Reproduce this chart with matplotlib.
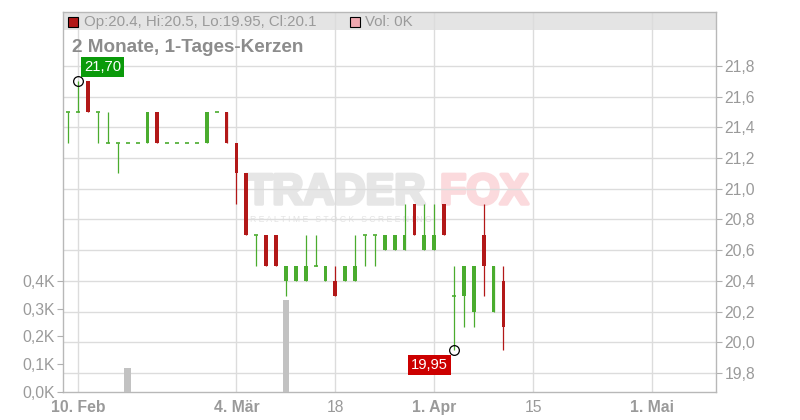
import numpy as np
import pandas as pd
import matplotlib
matplotlib.use('Agg')
import matplotlib.pyplot as plt
import matplotlib.patheffects as pe
from matplotlib.patches import Rectangle

plt.rcParams['font.family'] = ['Liberation Sans', 'DejaVu Sans']

# Kursdaten (Handelstage ab 7. Feb 2025)
opens = [21.5, 21.5, 21.7, 21.5, 21.3, 21.3, 21.3, 21.3, 21.3, 21.5,
         21.3, 21.3, 21.3, 21.3, 21.3, 21.5, 21.5, 21.3, 21.1, 20.7,
         20.7, 20.7, 20.4, 20.4, 20.4, 20.5, 20.4, 20.4, 20.4, 20.4,
         20.7, 20.7, 20.6, 20.6, 20.6, 20.9, 20.6, 20.6, 20.9, 20.3,
         20.3, 20.2, 20.7, 20.2, 20.4]
highs = [21.5, 21.7, 21.7, 21.5, 21.5, 21.3, 21.3, 21.3, 21.5, 21.5,
         21.3, 21.3, 21.3, 21.3, 21.5, 21.5, 21.5, 21.3, 21.1, 20.7,
         20.7, 20.7, 20.5, 20.5, 20.7, 20.7, 20.5, 20.5, 20.5, 20.7,
         20.7, 20.7, 20.7, 20.7, 20.9, 20.9, 20.9, 20.9, 20.9, 20.5,
         20.5, 20.5, 20.9, 20.5, 20.5]
lows = [21.3, 21.5, 21.5, 21.3, 21.3, 21.1, 21.3, 21.3, 21.3, 21.3,
        21.3, 21.3, 21.3, 21.3, 21.3, 21.5, 21.3, 20.9, 20.7, 20.5,
        20.5, 20.5, 20.3, 20.4, 20.4, 20.5, 20.4, 20.3, 20.4, 20.4,
        20.5, 20.5, 20.6, 20.6, 20.6, 20.7, 20.6, 20.6, 20.7, 19.95,
        20.1, 20.1, 20.3, 20.2, 19.95]
closes = [21.5, 21.5, 21.5, 21.5, 21.3, 21.3, 21.3, 21.3, 21.5, 21.3,
          21.3, 21.3, 21.3, 21.3, 21.5, 21.5, 21.3, 21.1, 20.7, 20.7,
          20.5, 20.5, 20.5, 20.5, 20.5, 20.5, 20.5, 20.3, 20.5, 20.5,
          20.7, 20.7, 20.7, 20.7, 20.7, 20.7, 20.7, 20.7, 20.7, 20.3,
          20.5, 20.5, 20.5, 20.5, 20.1]
volumes = [0, 0, 0, 0, 0, 0, 0.085, 0, 0, 0,
           0, 0, 0, 0, 0, 0, 0, 0, 0, 0,
           0, 0, 0.33, 0, 0, 0, 0, 0, 0, 0,
           0, 0, 0, 0, 0, 0, 0, 0, 0, 0,
           0, 0, 0, 0, 0]

tick_dates = ['2025-02-10', '2025-03-04', '2025-03-18', '2025-04-01', '2025-04-15', '2025-05-01']
tick_labels = ['10. Feb', '4. Mär', '18', '1. Apr', '15', '1. Mai']
tick_bold = [True, True, False, True, False, True]

price_ticks = [19.8, 20.0, 20.2, 20.4, 20.6, 20.8, 21.0, 21.2, 21.4, 21.6, 21.8]
vol_ticks = [0.0, 0.1, 0.2, 0.3, 0.4]

GREEN = '#4aac2e'
RED = '#b21818'
GRID = '#dcdcdc'
LABEL = '#9a9a9a'

days = pd.bdate_range('2025-02-07', '2025-05-30')
x = np.arange(len(opens))

fig = plt.figure(figsize=(8, 4.2), dpi=100)
ax = fig.add_axes([63 / 800, 28 / 420, (716 - 63) / 800, (392 - 12) / 420])
ax.set_xlim(-0.54, 65.5)
ax.set_ylim(19.676, 22.152)

# Kopfzeile
ax.add_patch(Rectangle((0, (392 - 30) / 380), 1, 18 / 380, transform=ax.transAxes,
                       facecolor='#e4e4e4', edgecolor='none', zorder=0.2))

# Gitter
tick_pos = [days.get_loc(pd.Timestamp(d)) for d in tick_dates]
for p in price_ticks:
    ax.axhline(p, color=GRID, lw=1, zorder=0.5)
for t in tick_pos:
    ax.axvline(t, color=GRID, lw=1, zorder=0.5)

# Wasserzeichen (unter dem Gitter)
ax.text(246 / 800, 1 - 193 / 420, 'TRADER', transform=fig.transFigure, fontsize=31,
        fontweight='bold', color='#e6e6e6', va='center', ha='left', zorder=0.4,
        path_effects=[pe.withStroke(linewidth=2.5, foreground='#e6e6e6')])
ax.text(440 / 800, 1 - 193 / 420, 'FOX', transform=fig.transFigure, fontsize=31,
        fontweight='bold', color='#fbdadd', va='center', ha='left', zorder=0.4,
        path_effects=[pe.withStroke(linewidth=2.5, foreground='#fbdadd')])
ax.text(250 / 800, 1 - 219 / 420, 'R E A L T I M E   S T O C K   S C R E E N I N G',
        transform=fig.transFigure, fontsize=6.2, color='#e4e4e4', va='center', ha='left', zorder=0.4)

# Kerzen
for i in x:
    o, h, l, c = opens[i], highs[i], lows[i], closes[i]
    col = RED if c < o else GREEN
    if h > l:
        ax.vlines(i, l, h, color=col, lw=0.9, zorder=2)
    if c != o:
        ax.bar(i, abs(c - o), bottom=min(o, c), width=0.38, color=col, zorder=3, linewidth=0)
    else:
        ax.hlines(o, i - 0.2, i + 0.2, color=col, lw=1.2, zorder=3)

# Hoch / Tief Markierungen
i_hi = int(np.argmax(highs))
i_lo = int(np.argmin(lows))
ax.plot(i_hi, highs[i_hi], 'o', ms=7, mfc='none', mec='black', mew=0.9, zorder=5)
ax.plot(i_lo, lows[i_lo], 'o', ms=7, mfc='none', mec='black', mew=0.9, zorder=5)
ax.annotate(f'{highs[i_hi]:.2f}'.replace('.', ','), (i_hi, highs[i_hi]),
            xytext=(17.8, 10.6), textcoords='offset points', ha='center', va='center',
            fontsize=10.6, color='white', zorder=6,
            bbox=dict(boxstyle='square,pad=0.2', fc='#0a9a0a', ec='none'))
ax.annotate(f'{lows[i_lo]:.2f}'.replace('.', ','), (i_lo, lows[i_lo]),
            xytext=(-17.5, -10.8), textcoords='offset points', ha='center', va='center',
            fontsize=10.6, color='white', zorder=6,
            bbox=dict(boxstyle='square,pad=0.2', fc='#cc0000', ec='none'))

# Volumen
axv = ax.twinx()
axv.set_ylim(0, 380 / 278)
axv.bar(x, volumes, width=0.68, color='#c2c2c2', linewidth=0, zorder=1)
axv.yaxis.tick_left()
axv.set_yticks(vol_ticks)
axv.set_yticklabels([f'{v:.1f}'.replace('.', ',') + 'K' for v in vol_ticks])
axv.tick_params(axis='y', colors='#b0b0b0', labelcolor=LABEL, labelsize=11.3, length=4, pad=2)
for s in axv.spines.values():
    s.set_visible(False)

# Achsen (Preis rechts)
ax.yaxis.tick_right()
ax.set_yticks(price_ticks)
ax.set_yticklabels([f'{p:.1f}'.replace('.', ',') for p in price_ticks])
ax.tick_params(axis='y', colors='#b0b0b0', labelcolor=LABEL, labelsize=11.3, length=4, pad=2)
ax.set_xticks(tick_pos)
ax.set_xticklabels(tick_labels)
ax.tick_params(axis='x', colors='#b0b0b0', labelcolor=LABEL, labelsize=11.3, length=0, pad=6)
for lab, b in zip(ax.get_xticklabels(), tick_bold):
    lab.set_fontweight('bold' if b else 'normal')
for s in ax.spines.values():
    s.set_color('#b8b8b8')
    s.set_linewidth(1)

# Kopfzeile Text
fig.patches.append(Rectangle((68 / 800, 1 - 27 / 420), 10 / 800, 10 / 420, transform=fig.transFigure,
                             facecolor=RED, edgecolor='black', lw=0.8, zorder=10))
fig.text(84 / 800, 1 - 22 / 420, f'Op:{opens[-1]}, Hi:{highs[-1]}, Lo:{lows[-1]}, Cl:{closes[-1]}',
         fontsize=10.8, color=LABEL, va='center', ha='left')
fig.patches.append(Rectangle((350 / 800, 1 - 27 / 420), 10 / 800, 10 / 420, transform=fig.transFigure,
                             facecolor='#f0a8b0', edgecolor='black', lw=0.8, zorder=10))
fig.text(365 / 800, 1 - 22 / 420, 'Vol: 0K', fontsize=10.8, color=LABEL, va='center', ha='left')
fig.text(72 / 800, 1 - 47 / 420, '2 Monate, 1-Tages-Kerzen', fontsize=13.6, fontweight='bold',
         color='#8c8c8c', va='center', ha='left')

fig.savefig('out.png', dpi=100)
